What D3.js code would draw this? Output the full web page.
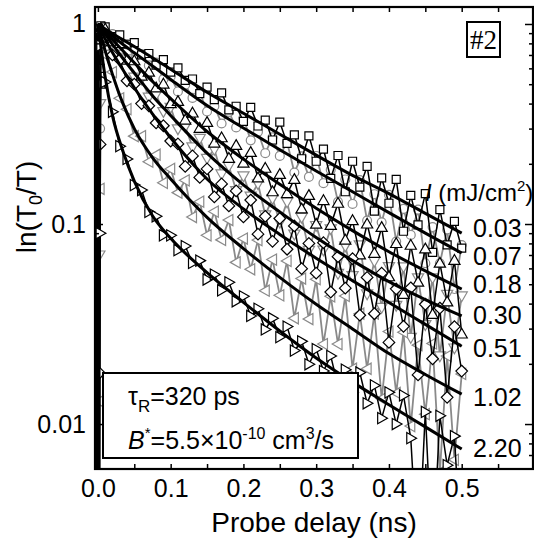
<!DOCTYPE html>
<html>
<head>
<meta charset="utf-8">
<script src="https://cdn.jsdelivr.net/npm/d3@7"></script>
<style>
  html, body { margin: 0; padding: 0; background: #fff; }
  svg { display: block; font-family: "Liberation Sans", Arial, Helvetica, sans-serif; }
</style>
</head>
<body>
<svg id="chart" width="534" height="546"></svg>
<script>
// Probe delays (ns) of the measured points after time zero
const delays = [0.01,0.02,0.03,0.04,0.05,0.06,0.07,0.08,0.09,0.10,
  0.11,0.12,0.13,0.14,0.15,0.16,0.17,0.18,0.19,0.20,
  0.21,0.22,0.23,0.24,0.25,0.26,0.27,0.28,0.29,0.30,
  0.31,0.32,0.33,0.34,0.35,0.36,0.37,0.38,0.39,0.40,
  0.41,0.42,0.43,0.44,0.45,0.46,0.47,0.48,0.49,0.50];
// Delays around time zero (signal rise)
const riseDelays = [-0.004, -0.003, -0.002, -0.001, 0.0, 0.001, 0.002, 0.003, 0.004];
// Delays at which the fitted curves are tabulated
const fitDelays = [0, 0.01, 0.02, 0.035, 0.05, 0.075, 0.1, 0.15, 0.2, 0.25, 0.3, 0.35, 0.4, 0.45, 0.5];

// Pump intensities (mJ/cm^2)
const intensities = ["0.03", "0.07", "0.18", "0.30", "0.51", "1.02", "2.20"];

// ln(T0/T) measured for each intensity
const signal003 = [0.967,0.865,0.882,0.792,0.807,0.700,0.712,0.623,0.664,0.574,
  0.604,0.522,0.531,0.449,0.483,0.419,0.453,0.372,0.388,0.326,
  0.383,0.309,0.331,0.263,0.323,0.253,0.279,0.212,0.276,0.206,
  0.237,0.169,0.220,0.145,0.206,0.153,0.194,0.116,0.170,0.127,
  0.167,0.092,0.139,0.099,0.142,0.0722,0.118,0.0786,0.103,0.0757];
const signal007 = [0.900,0.890,0.777,0.790,0.678,0.708,0.621,0.641,0.530,0.546,
  0.460,0.497,0.427,0.456,0.365,0.388,0.318,0.363,0.304,0.339,
  0.262,0.289,0.226,0.271,0.219,0.257,0.181,0.218,0.172,0.219,
  0.160,0.187,0.129,0.167,0.126,0.166,0.104,0.141,0.102,0.140,
  0.0818,0.119,0.0882,0.118,0.0637,0.0965,0.0636,0.0939,0.0473,0.0785];
const signal018 = [0.945,0.815,0.799,0.660,0.655,0.549,0.574,0.479,0.501,0.400,
  0.410,0.331,0.359,0.301,0.322,0.254,0.270,0.213,0.247,0.2015,
  0.228,0.170,0.190,0.145,0.177,0.142,0.167,0.119,0.139,0.0998,
  0.131,0.0985,0.127,0.0831,0.104,0.0701,0.1000,0.0714,0.0961,0.0545,
  0.0799,0.0445,0.0783,0.0512,0.0751,0.0353,0.0637,0.0408,0.0658,0.0282];
const signal030 = [0.868,0.818,0.682,0.670,0.543,0.531,0.431,0.444,0.365,0.383,
  0.299,0.307,0.243,0.268,0.213,0.236,0.178,0.195,0.147,0.174,
  0.138,0.159,0.111,0.134,0.102,0.129,0.0890,0.108,0.0738,0.0983,
  0.0741,0.0947,0.0566,0.0776,0.0552,0.0787,0.0447,0.0652,0.0383,0.0612,
  0.0392,0.0611,0.0271,0.0538,0.0314,0.0538,0.0219,0.0445,0.0240,0.0437];
const signal051 = [0.862,0.700,0.662,0.520,0.500,0.400,0.390,0.320,0.310,0.260,
  0.2515,0.194,0.219,0.171,0.1885,0.1366,0.1586,0.1232,0.1464,0.1085,
  0.1318,0.0890,0.1093,0.0819,0.1066,0.0748,0.0978,0.0598,0.0800,0.0568,
  0.0807,0.0457,0.0687,0.0478,0.0671,0.0350,0.0541,0.0356,0.0568,0.0256,
  0.0474,0.0308,0.0480,0.0176,0.0397,0.0212,0.0380,0.0136,0.0307,0.0184];
const signal102 = [0.700,0.575,0.425,0.375,0.275,0.275,0.205,0.222,0.1607,0.1885,
  0.1435,0.1654,0.1084,0.1293,0.0878,0.1154,0.0833,0.1047,0.0643,0.0846,
  0.0594,0.0831,0.0464,0.0664,0.0440,0.0654,0.0338,0.0534,0.0335,0.0530,
  0.0251,0.0435,0.0251,0.0437,0.0189,0.0356,0.0189,0.0356,0.0134,0.0290,
  0.0143,0.0288,0.00977,0.0248,0.0112,0.0253,0.00575,0.0219,0.00662,0.0178];
const signal220 = [0.513,0.364,0.245,0.2115,0.1566,0.1479,0.1151,0.1093,0.0878,0.0878,
  0.0740,0.0776,0.0639,0.0656,0.0528,0.0559,0.0466,0.0511,0.0411,0.0435,
  0.0347,0.0377,0.0297,0.0338,0.0272,0.0307,0.0233,0.0259,0.0199,0.0237,
  0.0184,0.0219,0.0154,0.0187,0.0144,0.0181,0.0127,0.0156,0.0107,0.0144,
  0.0100,0.0139,0.00850,0.002,0.0115,0.002,0.0110,0.00623,0.0087,0.002];

// Values around time zero (noisy before the pump arrives)
const rise003 = [0.002, 0.95, 0.002, 0.90, 0.002, 0.70, 0.002, 0.60, 0.98];
const rise007 = [0.90, 0.002, 0.85, 0.002, 0.95, 0.002, 0.50, 0.30, 0.96];
const rise018 = [0.002, 0.80, 0.002, 0.95, 0.002, 0.90, 0.002, 0.50, 0.95];
const rise030 = [0.95, 0.002, 0.90, 0.002, 0.80, 0.002, 0.07, 0.40, 0.93];
const rise051 = [0.002, 0.90, 0.002, 0.85, 0.002, 0.95, 0.018, 0.25, 0.90];
const rise102 = [0.85, 0.002, 0.95, 0.002, 0.90, 0.002, 0.013, 0.15, 0.85];
const rise220 = [0.002, 0.90, 0.002, 0.95, 0.002, 0.80, 0.002, 0.09, 0.78];

// Fitted recombination curves
const fit003 = [1.0,0.945,0.895,0.831,0.771,0.678,0.594,0.456,0.358,0.281,0.221,0.175,0.142,0.113,0.090];
const fit007 = [1.0,0.932,0.870,0.787,0.718,0.617,0.528,0.391,0.302,0.235,0.184,0.145,0.114,0.090,0.0716];
const fit018 = [1.0,0.913,0.834,0.730,0.640,0.516,0.424,0.290,0.211,0.158,0.120,0.0927,0.0727,0.0583,0.0473];
const fit030 = [1.0,0.888,0.790,0.668,0.569,0.438,0.349,0.226,0.157,0.115,0.0856,0.0656,0.0515,0.0419,0.0347];
const fit051 = [1.0,0.840,0.720,0.585,0.480,0.355,0.270,0.168,0.119,0.0887,0.0675,0.0521,0.0405,0.0315,0.0245];
const fit102 = [1.0,0.735,0.560,0.395,0.300,0.215,0.168,0.108,0.0754,0.0541,0.0397,0.0299,0.0225,0.0177,0.0141];
const fit220 = [1.0,0.543,0.348,0.228,0.164,0.110,0.0848,0.0572,0.0406,0.0292,0.0214,0.0162,0.0125,0.00968,0.0075];

const xTickLabels = ["0.0", "0.1", "0.2", "0.3", "0.4", "0.5"];
const yTickLabels = ["1", "0.1", "0.01"];

// ---- series table built from the arrays above ----
const GRAY = "#8a8a8a";
const series = [
  { label: intensities[0], signal: signal003, rise: rise003, fit: fit003, shape: "square",        color: "#000" },
  { label: intensities[1], signal: signal007, rise: rise007, fit: fit007, shape: "circle",        color: GRAY },
  { label: intensities[2], signal: signal018, rise: rise018, fit: fit018, shape: "triangleUp",    color: "#000" },
  { label: intensities[3], signal: signal030, rise: rise030, fit: fit030, shape: "triangleDown",  color: GRAY },
  { label: intensities[4], signal: signal051, rise: rise051, fit: fit051, shape: "diamond",       color: "#000" },
  { label: intensities[5], signal: signal102, rise: rise102, fit: fit102, shape: "triangleLeft",  color: GRAY },
  { label: intensities[6], signal: signal220, rise: rise220, fit: fit220, shape: "triangleRight", color: "#000" }
];

const svg = d3.select("#chart");
const plot = { left: 95, top: 7, right: 533, bottom: 469 };

const x = d3.scaleLinear().domain([-0.004, 0.598]).range([plot.left, plot.right]);
const y = d3.scaleLog().domain([1.216, 0.00596]).range([plot.top, plot.bottom]);

svg.append("defs").append("clipPath").attr("id", "plotClip")
  .append("rect")
  .attr("x", plot.left).attr("y", plot.top)
  .attr("width", plot.right - plot.left).attr("height", plot.bottom - plot.top);

const markerPaths = {
  square: d3.symbol(d3.symbolSquare, 64)(),
  circle: d3.symbol(d3.symbolCircle, 62)(),
  diamond: "M0,-5.8L5.8,0L0,5.8L-5.8,0Z",
  triangleUp: "M0,-5.8L5.6,4L-5.6,4Z",
  triangleDown: "M0,5.8L5.6,-4L-5.6,-4Z",
  triangleLeft: "M-5.8,0L4,-5.6L4,5.6Z",
  triangleRight: "M5.8,0L-4,-5.6L-4,5.6Z"
};

const line = d3.line()
  .x(d => x(d[0]))
  .y(d => y(Math.max(d[1], 1e-4)));

const dataLayer = svg.append("g").attr("clip-path", "url(#plotClip)");

// gray series first, black ones on top
const drawOrder = [1, 3, 5, 0, 2, 4, 6];
drawOrder.forEach(i => {
  const s = series[i];
  const risePts = riseDelays.map((t, k) => [t, s.rise[k]]);
  const mainPts = delays.map((t, k) => [t, s.signal[k]]);
  const pts = risePts.concat(mainPts);
  const g = dataLayer.append("g");
  g.append("path")
    .attr("d", line(pts))
    .attr("fill", "none")
    .attr("stroke", s.color)
    .attr("stroke-width", s.color === GRAY ? 1.8 : 1.5)
    .attr("stroke-linejoin", "miter");
  // markers: after the rise and all later points that stay on scale
  const marked = risePts.filter(d => d[0] >= 0.002).concat(mainPts)
    .filter(d => d[1] > 0.0045);
  g.selectAll("path.mk")
    .data(marked)
    .join("path")
    .attr("class", "mk")
    .attr("d", markerPaths[s.shape])
    .attr("transform", d => `translate(${x(d[0])},${y(d[1])})`)
    .attr("fill", "#fff")
    .attr("stroke", s.color)
    .attr("stroke-width", 1.2);
});

// fitted curves
const fitLine = d3.line()
  .x(d => x(d[0]))
  .y(d => y(d[1]))
  .curve(d3.curveMonotoneX);
const fitLayer = svg.append("g").attr("clip-path", "url(#plotClip)");
series.forEach(s => {
  fitLayer.append("path")
    .attr("d", fitLine(fitDelays.map((t, k) => [t, s.fit[k]])))
    .attr("fill", "none")
    .attr("stroke", "#000")
    .attr("stroke-width", 3);
});

// ---- parameter box ----
const box = svg.append("g");
box.append("rect")
  .attr("x", 103).attr("y", 373).attr("width", 255).attr("height", 85)
  .attr("fill", "#fff").attr("stroke", "#000").attr("stroke-width", 2);
const t1 = box.append("text").attr("x", 128).attr("y", 405).attr("font-size", 25);
t1.append("tspan").text("τ");
t1.append("tspan").attr("font-size", 17).attr("dy", 7).text("R");
t1.append("tspan").attr("dy", -7).text("=320 ps");
const t2 = box.append("text").attr("x", 128).attr("y", 449).attr("font-size", 25);
t2.append("tspan").attr("font-style", "italic").text("B");
t2.append("tspan").attr("font-size", 15).attr("dy", -11).text("*");
t2.append("tspan").attr("dy", 11).text("=5.5×10");
t2.append("tspan").attr("font-size", 16).attr("dy", -10).text("-10");
t2.append("tspan").attr("dy", 10).text(" cm");
t2.append("tspan").attr("font-size", 16).attr("dy", -10).text("3");
t2.append("tspan").attr("dy", 10).text("/s");

// ---- axes ----
const fontFamily = '"Liberation Sans", Arial, Helvetica, sans-serif';
function styleAxis(g) {
  g.select(".domain").remove();
  g.selectAll(".tick line").attr("stroke", "#000").attr("stroke-width", 1.5);
  g.selectAll(".tick text").attr("font-size", 25).attr("font-family", fontFamily).attr("fill", "#000");
}
const xMajor = [0, 0.1, 0.2, 0.3, 0.4, 0.5];
const xAll = [0, 0.05, 0.1, 0.15, 0.2, 0.25, 0.3, 0.35, 0.4, 0.45, 0.5, 0.55];

svg.append("g").attr("transform", `translate(0,${plot.bottom})`)
  .call(d3.axisBottom(x).tickValues(xAll).tickSize(-5).tickFormat(""))
  .call(styleAxis);
svg.append("g").attr("transform", `translate(0,${plot.bottom})`)
  .call(d3.axisBottom(x).tickValues(xMajor).tickSize(0).tickPadding(10)
    .tickFormat((d, i) => xTickLabels[i]))
  .call(styleAxis);
svg.append("g").attr("transform", `translate(0,${plot.top})`)
  .call(d3.axisTop(x).tickValues(xAll).tickSize(-5).tickFormat(""))
  .call(styleAxis);

const yMajor = [1, 0.1, 0.01];
const yMinor = [];
[0.1, 0.01, 0.001].forEach(dec => {
  for (let m = 2; m <= 9; m++) {
    const v = +(m * dec).toPrecision(3);
    if (v < 1.2 && v > 0.006) yMinor.push(v);
  }
});

svg.append("g").attr("transform", `translate(${plot.left},0)`)
  .call(d3.axisLeft(y).tickValues(yMajor).tickSize(-8).tickPadding(9)
    .tickFormat((d, i) => yTickLabels[i]))
  .call(styleAxis);
svg.append("g").attr("transform", `translate(${plot.left},0)`)
  .call(d3.axisLeft(y).tickValues(yMinor).tickSize(-4).tickFormat(""))
  .call(styleAxis);
svg.append("g").attr("transform", `translate(${plot.right},0)`)
  .call(d3.axisRight(y).tickValues(yMajor).tickSize(-8).tickFormat(""))
  .call(styleAxis);
svg.append("g").attr("transform", `translate(${plot.right},0)`)
  .call(d3.axisRight(y).tickValues(yMinor).tickSize(-4).tickFormat(""))
  .call(styleAxis);

// frame
svg.append("rect")
  .attr("x", plot.left).attr("y", plot.top)
  .attr("width", plot.right - plot.left).attr("height", plot.bottom - plot.top)
  .attr("fill", "none").attr("stroke", "#000").attr("stroke-width", 2.2);

// axis titles
svg.append("text")
  .attr("x", (plot.left + plot.right) / 2).attr("y", 532)
  .attr("text-anchor", "middle").attr("font-size", 28)
  .text("Probe delay (ns)");

const yTitle = svg.append("text")
  .attr("transform", "translate(36,207) rotate(-90)")
  .attr("text-anchor", "middle").attr("font-size", 28);
yTitle.append("tspan").text("ln(T");
yTitle.append("tspan").attr("font-size", 18).attr("dy", 6).text("0");
yTitle.append("tspan").attr("dy", -6).text("/T)");

// sample tag
svg.append("rect")
  .attr("x", 467).attr("y", 22).attr("width", 33).attr("height", 35)
  .attr("fill", "#fff").attr("stroke", "#000").attr("stroke-width", 2);
svg.append("text")
  .attr("x", 483.5).attr("y", 49).attr("text-anchor", "middle")
  .attr("font-family", '"Liberation Serif", "Times New Roman", serif')
  .attr("font-size", 27).text("#2");

// intensity labels
const head = svg.append("text").attr("x", 425).attr("y", 201).attr("font-size", 24);
head.append("tspan").attr("font-style", "italic").text("I");
head.append("tspan").text(" (mJ/cm");
head.append("tspan").attr("font-size", 15).attr("dy", -10).text("2");
head.append("tspan").attr("dy", 10).text(")");

const labelBaselines = [237, 265, 293, 324, 357, 406, 457];
svg.append("g").selectAll("text")
  .data(series)
  .join("text")
  .attr("x", 473)
  .attr("y", (d, i) => labelBaselines[i])
  .attr("font-size", 25)
  .text(d => d.label);
</script>
</body>
</html>
